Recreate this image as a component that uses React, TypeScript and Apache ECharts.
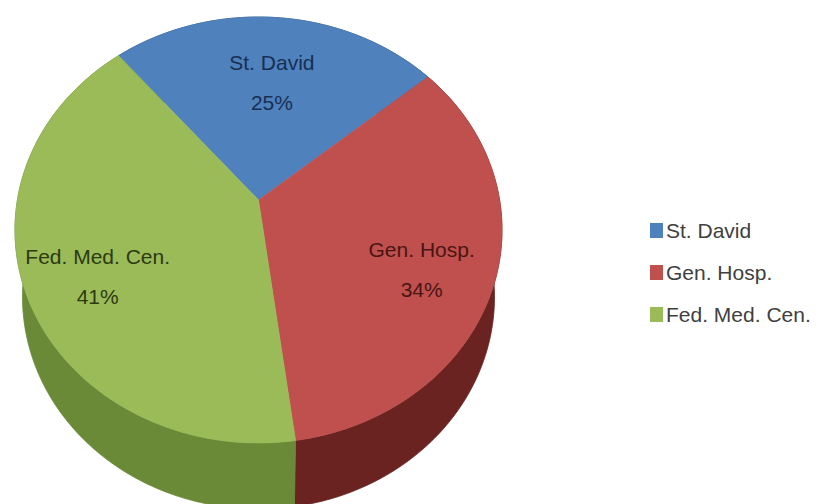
import React, { useEffect, useRef } from "react";
import * as echarts from "echarts";

const categories = ["St. David", "Gen. Hosp.", "Fed. Med. Cen."];
const values = [25, 34, 41];
const topColors = ["#4F81BD", "#C0504D", "#9BBB59"];
const sideColors = ["#2C4D75", "#6A2321", "#6B8A38"];
const labelColors = ["#172F52", "#4A1513", "#2C3A10"];

const FONT = "'Liberation Sans', Arial, sans-serif";

// pie geometry (top face ellipse, bottom ellipse, perspective tilt)
const CX = 258.5, CY = 230, RX = 243.5, RY = 213;
const BCX = 258.5, BCY = 297, BRX = 236, BRY = 212;
const TILT = -0.141;
const START_DEG = -130;

function project(theta: number, r: number, cx: number, cy: number, rx: number, ry: number) {
  const x = r * Math.cos(theta);
  const y = r * Math.sin(theta);
  const den = 1 + TILT * y;
  const xp = (x * Math.sqrt(1 - TILT * TILT)) / den;
  const yp = (y + TILT) / den;
  return [cx + rx * xp, cy + ry * yp];
}

function makeRenderItem(i: number) {
  return (params: any, api: any) => {
    const v = api.value(0) as number;
    const total = values.reduce((a, b) => a + b, 0);
    const before = values.slice(0, i).reduce((a, b) => a + b, 0);
    const s = START_DEG + (before / total) * 360;
    const e = s + (v / total) * 360;
    const n = Math.max(2, Math.ceil(e - s));
    const topArc: number[][] = [];
    const botArc: number[][] = [];
    for (let k = 0; k <= n; k++) {
      const a = ((s + ((e - s) * k) / n) * Math.PI) / 180;
      topArc.push(project(a, 1, CX, CY, RX, RY));
      botArc.push(project(a, 1, BCX, BCY, BRX, BRY));
    }
    const apex = project(0, 0, CX, CY, RX, RY);
    const mid = (((s + e) / 2) * Math.PI) / 180;
    const lp = project(mid, 0.7, CX, CY, RX, RY);
    const pct = Math.round((v / total) * 100);
    return {
      type: "group",
      children: [
        {
          type: "polygon",
          z2: 1,
          shape: { points: topArc.concat(botArc.slice().reverse()) },
          style: { fill: sideColors[i], stroke: sideColors[i], lineWidth: 0.8 },
        },
        {
          type: "polygon",
          z2: 10,
          shape: { points: [apex].concat(topArc) },
          style: { fill: topColors[i], stroke: topColors[i], lineWidth: 0.6 },
        },
        {
          type: "text",
          z2: 20,
          style: {
            text: categories[i] + "\n" + pct + "%",
            x: lp[0],
            y: lp[1] + 15,
            align: "center",
            verticalAlign: "middle",
            fontFamily: FONT,
            fontSize: 21,
            lineHeight: 40,
            fill: labelColors[i],
          },
        },
      ],
    };
  };
}

export default function App() {
  const ref = useRef<HTMLDivElement>(null);
  useEffect(() => {
    if (!ref.current) return;
    const chart = echarts.init(ref.current, null, { renderer: "svg" });
    chart.setOption({
      animation: false,
      backgroundColor: "#ffffff",
      legend: {
        orient: "vertical",
        left: 645,
        top: 215,
        itemWidth: 13,
        itemHeight: 15,
        itemGap: 21,
        icon: "rect",
        selectedMode: false,
        data: categories,
        textStyle: { fontFamily: FONT, fontSize: 21, color: "#404040", padding: [0, 0, 0, -2] },
      },
      series: categories.map((name, i) => ({
        type: "custom",
        name,
        coordinateSystem: "none",
        silent: true,
        itemStyle: { color: topColors[i] },
        renderItem: makeRenderItem(i),
        data: [[values[i]]],
      })),
    });
    return () => chart.dispose();
  }, []);
  return (
    <div
      ref={ref}
      style={{ position: "fixed", left: 0, top: 0, width: 819, height: 504 }}
    />
  );
}
